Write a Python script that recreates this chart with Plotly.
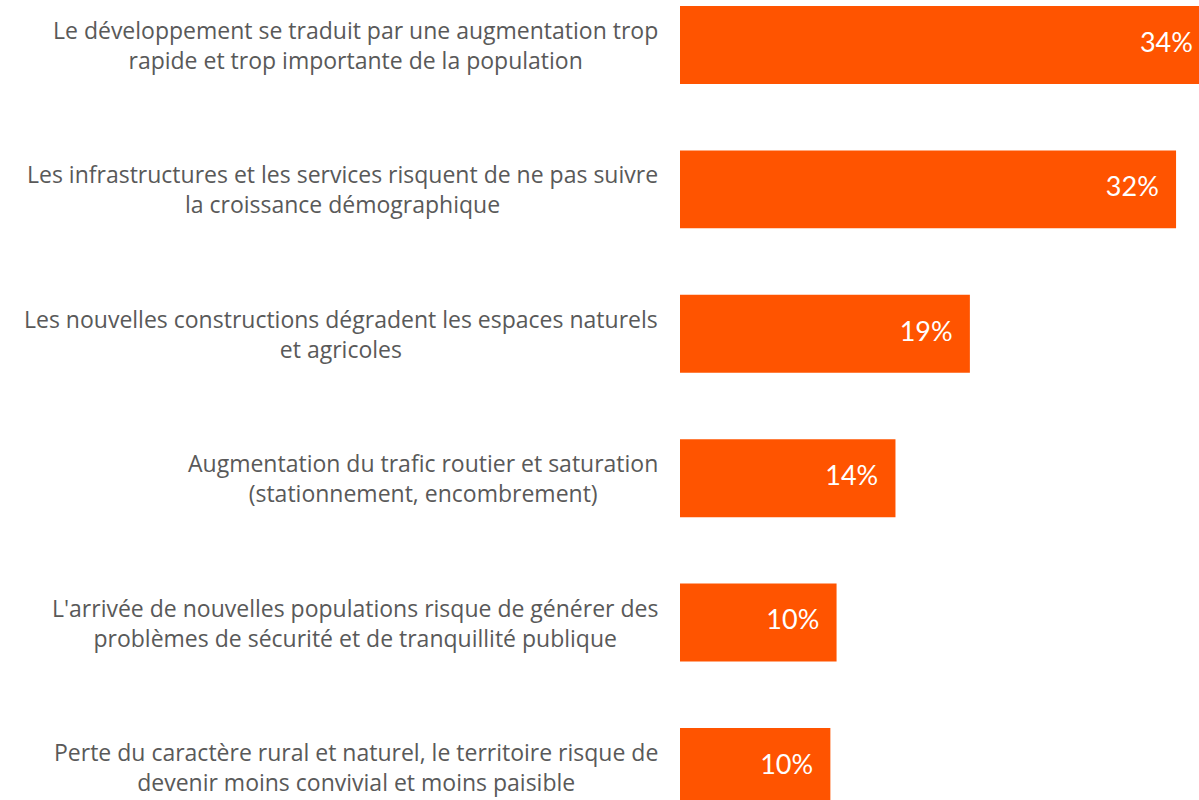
import plotly.graph_objects as go

categories = [
    "Le développement se traduit par une augmentation trop<br>rapide et trop importante de la population",
    "Les infrastructures et les services risquent de ne pas suivre<br>la croissance démographique",
    "Les nouvelles constructions dégradent les espaces naturels<br>et agricoles",
    "Augmentation du trafic routier et saturation<br>(stationnement, encombrement)",
    "L'arrivée de nouvelles populations risque de générer des<br>problèmes de sécurité et de tranquillité publique",
    "Perte du caractère rural et naturel, le territoire risque de<br>devenir moins convivial et moins paisible",
]
values = [34.2, 32.0, 18.7, 13.9, 10.1, 9.7]
value_labels = ["34%", "32%", "19%", "14%", "10%", "10%"]

BAR_COLOR = "#FF5400"
TEXT_COLOR = "#595959"
LABEL_FONT = "'Open Sans', sans-serif"
VALUE_FONT = "Lato, 'Open Sans', sans-serif"

y_pos = list(range(len(categories)))

fig = go.Figure()
fig.add_trace(go.Bar(
    x=values,
    y=y_pos,
    orientation="h",
    marker=dict(color=BAR_COLOR, line=dict(width=0)),
    width=0.54,
    hoverinfo="skip",
))
# value labels placed just inside the end of each bar
fig.add_trace(go.Scatter(
    x=values,
    y=y_pos,
    mode="markers+text",
    marker=dict(size=26, color="rgba(0,0,0,0)"),
    text=value_labels,
    textposition="middle left",
    textfont=dict(color="white", size=27, family=VALUE_FONT),
    cliponaxis=True,
    hoverinfo="skip",
))

for i, c in enumerate(categories):
    fig.add_annotation(
        x=0, y=i, xref="x", yref="y",
        text=c, showarrow=False,
        xanchor="right", yanchor="middle", align="center",
        xshift=-20,
        font=dict(size=23, color=TEXT_COLOR, family=LABEL_FONT),
    )

fig.update_layout(
    width=1199, height=800,
    margin=dict(l=680, r=0, t=0, b=0),
    plot_bgcolor="white", paper_bgcolor="white",
    showlegend=False,
    xaxis=dict(range=[0, 33.48], visible=False, fixedrange=True),
    yaxis=dict(range=[5.229, -0.3116], visible=False, fixedrange=True),
)

fig.write_html(
    "out.html",
    config={"displayModeBar": False},
    post_script="document.body.style.margin='0';document.body.style.overflow='hidden';",
)
